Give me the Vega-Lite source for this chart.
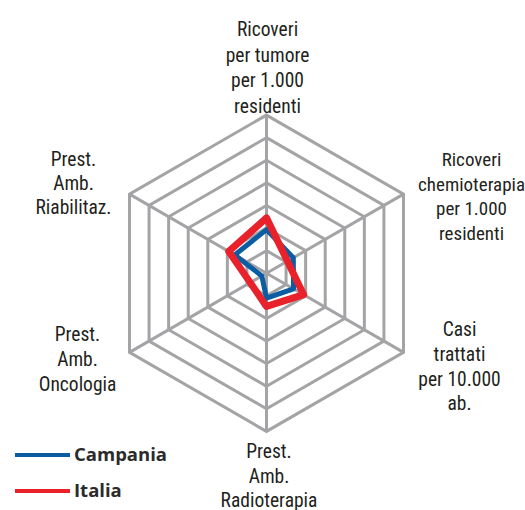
{
  "$schema": "https://vega.github.io/schema/vega-lite/v6.json",
  "width": 525,
  "height": 510,
  "padding": 0,
  "autosize": {"type": "none"},
  "background": "white",
  "config": {"view": {"stroke": null}},
  "datasets": {
    "grid": [
      {"ring": 1, "v": [0, 1, 2, 3, 4, 5]},
      {"ring": 2, "v": [0, 1, 2, 3, 4, 5]},
      {"ring": 3, "v": [0, 1, 2, 3, 4, 5]},
      {"ring": 4, "v": [0, 1, 2, 3, 4, 5]},
      {"ring": 5, "v": [0, 1, 2, 3, 4, 5]},
      {"ring": 6, "v": [0, 1, 2, 3, 4, 5]},
      {"ring": 7, "v": [0, 1, 2, 3, 4, 5]}
    ],
    "spokes": [{"i": 0}, {"i": 1}, {"i": 2}, {"i": 3}, {"i": 4}, {"i": 5}],
    "series": [
      {"series": "Campania", "i": 0, "axis": "Ricoveri per tumore", "value": 1.93},
      {"series": "Campania", "i": 1, "axis": "Ricoveri chemioterapia", "value": 1.37},
      {"series": "Campania", "i": 2, "axis": "Casi trattati", "value": 1.38},
      {"series": "Campania", "i": 3, "axis": "Prest. Amb. Radioterapia", "value": 1.1},
      {"series": "Campania", "i": 4, "axis": "Prest. Amb. Oncologia", "value": 0.24},
      {"series": "Campania", "i": 5, "axis": "Prest. Amb. Riabilitaz.", "value": 1.62},
      {"series": "Italia", "i": 0, "axis": "Ricoveri per tumore", "value": 2.45},
      {"series": "Italia", "i": 1, "axis": "Ricoveri chemioterapia", "value": 1.07},
      {"series": "Italia", "i": 2, "axis": "Casi trattati", "value": 1.9},
      {"series": "Italia", "i": 3, "axis": "Prest. Amb. Radioterapia", "value": 1.47},
      {"series": "Italia", "i": 4, "axis": "Prest. Amb. Oncologia", "value": 0.83},
      {"series": "Italia", "i": 5, "axis": "Prest. Amb. Riabilitaz.", "value": 1.93}
    ],
    "labels": [
      {"i": 0, "label": "Ricoveri\nper tumore\nper 1.000\nresidenti"},
      {"i": 1, "label": "Ricoveri\nchemioterapia\nper 1.000\nresidenti"},
      {"i": 2, "label": "Casi\ntrattati\nper 10.000\nab."},
      {"i": 3, "label": "Prest.\nAmb.\nRadioterapia"},
      {"i": 4, "label": "Prest.\nAmb.\nOncologia"},
      {"i": 5, "label": "Prest.\nAmb.\nRiabilitaz."}
    ]
  },
  "layer": [
    {
      "data": {"name": "grid"},
      "transform": [
        {"flatten": ["v"]},
        {"calculate": "datum.ring * cos(PI * (90 - 60 * datum.v) / 180)", "as": "X"},
        {"calculate": "datum.ring * sin(PI * (90 - 60 * datum.v) / 180)", "as": "Y"}
      ],
      "mark": {"type": "line", "interpolate": "linear-closed", "stroke": "#A4A4A7", "strokeWidth": 3, "strokeJoin": "miter"},
      "encoding": {
        "x": {"field": "X", "type": "quantitative", "scale": {"domain": [-11.792, 11.438], "nice": false, "zero": false}, "axis": null},
        "y": {"field": "Y", "type": "quantitative", "scale": {"domain": [-10.478, 12.093], "nice": false, "zero": false}, "axis": null},
        "detail": {"field": "ring", "type": "nominal"},
        "order": {"field": "v", "type": "quantitative"}
      }
    },
    {
      "data": {"name": "spokes"},
      "transform": [
        {"calculate": "7 * cos(PI * (90 - 60 * datum.i) / 180)", "as": "X"},
        {"calculate": "7 * sin(PI * (90 - 60 * datum.i) / 180)", "as": "Y"}
      ],
      "mark": {"type": "rule", "stroke": "#A4A4A7", "strokeWidth": 3},
      "encoding": {
        "x": {"field": "X", "type": "quantitative"},
        "y": {"field": "Y", "type": "quantitative"},
        "x2": {"datum": 0},
        "y2": {"datum": 0}
      }
    },
    {
      "data": {"name": "series"},
      "transform": [
        {"calculate": "datum.value * cos(PI * (90 - 60 * datum.i) / 180)", "as": "X"},
        {"calculate": "datum.value * sin(PI * (90 - 60 * datum.i) / 180)", "as": "Y"}
      ],
      "mark": {"type": "line", "interpolate": "linear-closed", "strokeJoin": "round"},
      "encoding": {
        "x": {"field": "X", "type": "quantitative"},
        "y": {"field": "Y", "type": "quantitative"},
        "order": {"field": "i", "type": "quantitative"},
        "color": {
          "field": "series",
          "type": "nominal",
          "scale": {"domain": ["Campania", "Italia"], "range": ["#0B5DA3", "#E8212B"]},
          "legend": {
            "orient": "none",
            "legendX": 13,
            "legendY": 443,
            "title": null,
            "symbolType": "stroke",
            "symbolSize": 3025,
            "symbolStrokeWidth": 4,
            "labelFont": "Open Sans",
            "labelFontWeight": "bold",
            "labelFontSize": 18.5,
            "labelColor": "#2B2B2B",
            "clipHeight": 24,
            "rowPadding": 12,
            "labelOffset": 2
          }
        },
        "strokeWidth": {"condition": {"test": "datum.series === 'Italia'", "value": 7}, "value": 5}
      }
    },
    {
      "data": {"name": "labels"},
      "transform": [
        {"calculate": "7 * cos(PI * (90 - 60 * datum.i) / 180)", "as": "X"},
        {"calculate": "7 * sin(PI * (90 - 60 * datum.i) / 180)", "as": "Y"}
      ],
      "layer": [
        {"transform": [{"filter": "datum.i === 0"}], "mark": {"type": "text", "lineBreak": "\n", "font": "Roboto Condensed", "fontSize": 19.5, "lineHeight": 25.5, "color": "#231F20", "dx": 1, "dy": -85}},
        {"transform": [{"filter": "datum.i === 1"}], "mark": {"type": "text", "lineBreak": "\n", "font": "Roboto Condensed", "fontSize": 19, "lineHeight": 24.5, "color": "#231F20", "dx": 68, "dy": -34}},
        {"transform": [{"filter": "datum.i === 2"}], "mark": {"type": "text", "lineBreak": "\n", "font": "Roboto Condensed", "fontSize": 19.5, "lineHeight": 24.7, "color": "#231F20", "dx": 56, "dy": -22}},
        {"transform": [{"filter": "datum.i === 3"}], "mark": {"type": "text", "lineBreak": "\n", "font": "Roboto Condensed", "fontSize": 19.5, "lineHeight": 24.5, "color": "#231F20", "dx": 2.5, "dy": 21}},
        {"transform": [{"filter": "datum.i === 4"}], "mark": {"type": "text", "lineBreak": "\n", "font": "Roboto Condensed", "fontSize": 19.5, "lineHeight": 25, "color": "#231F20", "dx": -52, "dy": -17.5}},
        {"transform": [{"filter": "datum.i === 5"}], "mark": {"type": "text", "lineBreak": "\n", "font": "Roboto Condensed", "fontSize": 19.5, "lineHeight": 24, "color": "#231F20", "dx": -56, "dy": -34}}
      ],
      "encoding": {
        "x": {"field": "X", "type": "quantitative"},
        "y": {"field": "Y", "type": "quantitative"},
        "text": {"field": "label"}
      }
    }
  ],
  "resolve": {"scale": {"x": "shared", "y": "shared"}}
}
